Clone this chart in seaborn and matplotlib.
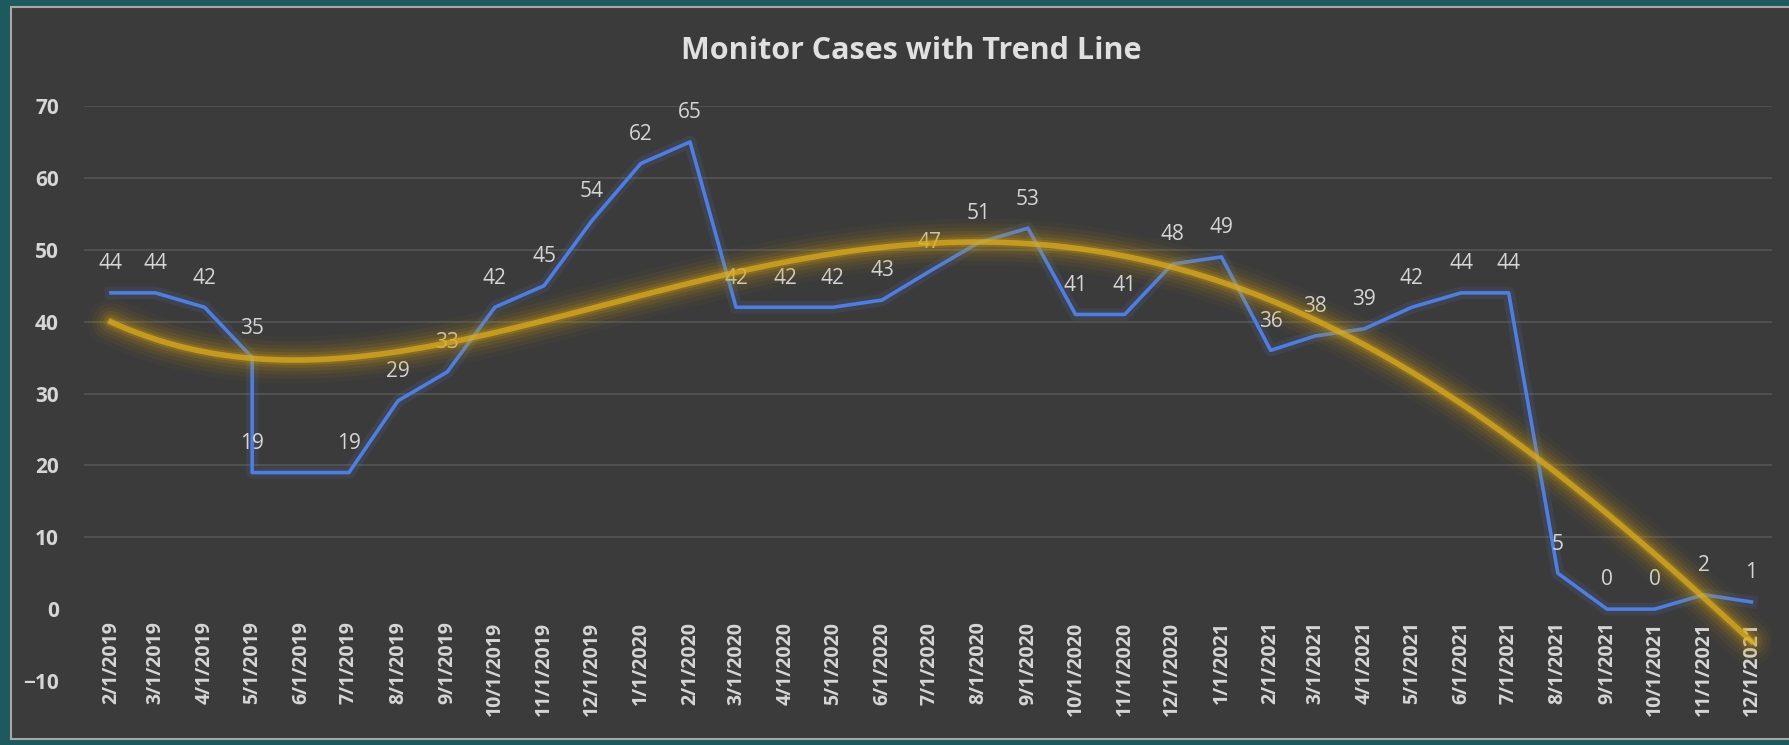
import numpy as np
import pandas as pd
import matplotlib
matplotlib.use("Agg")
import matplotlib.pyplot as plt
from matplotlib.patches import Rectangle
import seaborn as sns

# Data (two readings share 5/1/2019, none for 6/1/2019)
dates = ["2019-02-01", "2019-03-01", "2019-04-01", "2019-05-01", "2019-05-01",
         "2019-07-01", "2019-08-01", "2019-09-01", "2019-10-01", "2019-11-01",
         "2019-12-01", "2020-01-01", "2020-02-01", "2020-03-01", "2020-04-01",
         "2020-05-01", "2020-06-01", "2020-07-01", "2020-08-01", "2020-09-01",
         "2020-10-01", "2020-11-01", "2020-12-01", "2021-01-01", "2021-02-01",
         "2021-03-01", "2021-04-01", "2021-05-01", "2021-06-01", "2021-07-01",
         "2021-08-01", "2021-09-01", "2021-10-01", "2021-11-01", "2021-12-01"]
cases = [44, 44, 42, 35, 19, 19, 29, 33, 42, 45, 54, 62, 65, 42, 42, 42, 43, 47,
         51, 53, 41, 41, 48, 49, 36, 38, 39, 42, 44, 44, 5, 0, 0, 2, 1]

tick_labels = ["2/1/2019", "3/1/2019", "4/1/2019", "5/1/2019", "6/1/2019",
               "7/1/2019", "8/1/2019", "9/1/2019", "10/1/2019", "11/1/2019",
               "12/1/2019", "1/1/2020", "2/1/2020", "3/1/2020", "4/1/2020",
               "5/1/2020", "6/1/2020", "7/1/2020", "8/1/2020", "9/1/2020",
               "10/1/2020", "11/1/2020", "12/1/2020", "1/1/2021", "2/1/2021",
               "3/1/2021", "4/1/2021", "5/1/2021", "6/1/2021", "7/1/2021",
               "8/1/2021", "9/1/2021", "10/1/2021", "11/1/2021", "12/1/2021"]
y_ticks = [-10, 0, 10, 20, 30, 40, 50, 60, 70]

title = "Monitor Cases with Trend Line"

df = pd.DataFrame({"date": pd.to_datetime(dates), "cases": cases})
tick_dates = pd.to_datetime(tick_labels, format="%m/%d/%Y")

# polynomial trend (order 4), fitted on day numbers like Excel does
days = (df["date"] - df["date"].iloc[0]).dt.days.to_numpy(dtype=float)
coef = np.polyfit(days / 100.0, df["cases"], 4)
grid_days = np.linspace(days.min(), days.max(), 400)
trend = pd.DataFrame({
    "date": df["date"].iloc[0] + pd.to_timedelta(grid_days, unit="D"),
    "trend": np.polyval(coef, grid_days / 100.0),
})

plt.rcParams["font.family"] = ["Open Sans", "DejaVu Sans"]

W, H = 1790, 745
fig = plt.figure(figsize=(W / 100, H / 100), dpi=100)
fig.patch.set_facecolor("#1d5a5e")

# dark chart panel behind the axes
bg = fig.add_axes([0, 0, 1, 1], zorder=-5)
bg.set_axis_off()
bg.set_xlim(0, 1)
bg.set_ylim(0, 1)
bg.add_patch(Rectangle((11 / W, 6 / H), 1.0, (738 - 6) / H,
                       facecolor="#3b3b3b", edgecolor="#a8a8a8", linewidth=1.5))

ax = fig.add_axes([84 / W, 1 - 681 / H, (1772 - 84) / W, (681 - 106) / H])
ax.set_facecolor("none")

# blue series with a faint halo
sns.lineplot(data=df, x="date", y="cases", ax=ax, estimator=None, sort=False,
             color="#5b7fd8", lw=9, alpha=0.12, zorder=2)
sns.lineplot(data=df, x="date", y="cases", ax=ax, estimator=None, sort=False,
             color="#4f7de0", lw=2.6, zorder=3)

for d, v in zip(df["date"], df["cases"]):
    ax.annotate(str(v), (d, v), xytext=(0, 21), textcoords="offset points",
                ha="center", va="center", color="#d6d6d6", fontsize=15, zorder=4)

# glowing trend line
for lw, a in [(34, 0.04), (27, 0.06), (21, 0.08), (16, 0.11), (11, 0.16), (7, 0.25)]:
    ax.plot(trend["date"], trend["trend"], color="#c99a12", lw=lw, alpha=a,
            solid_capstyle="round", zorder=5)
sns.lineplot(data=trend, x="date", y="trend", ax=ax, color="#dfb020", lw=4,
             alpha=0.7, zorder=6)

ax.set_ylim(-10, 70)
ax.set_xlim(df["date"].iloc[0] - pd.Timedelta(days=17),
            df["date"].iloc[-1] + pd.Timedelta(days=13))
ax.set_yticks(y_ticks)
ax.set_xticks(tick_dates)
ax.set_xticklabels(tick_labels)

ax.spines["bottom"].set_position(("data", 0))
for s in ax.spines.values():
    s.set_visible(False)
ax.tick_params(axis="both", length=0, colors="#d6d6d6")
ax.tick_params(axis="y", pad=18, labelsize=15)
ax.tick_params(axis="x", pad=9, labelsize=14, labelrotation=90)
for lab in ax.get_xticklabels() + ax.get_yticklabels():
    lab.set_fontweight("bold")
ax.grid(axis="y", color="#555555", lw=1.2)
ax.grid(axis="x", visible=False)
for val, gl in zip(y_ticks, ax.get_ygridlines()):
    if val <= 0:
        gl.set_visible(False)
ax.set_axisbelow(True)
ax.set_xlabel("")
ax.set_ylabel("")

fig.text(0.509, 1 - 51 / H, title, ha="center", va="center", fontsize=22,
         fontweight="bold", color="#e0e0e0")

fig.savefig("out.png", dpi=100, facecolor=fig.get_facecolor())
